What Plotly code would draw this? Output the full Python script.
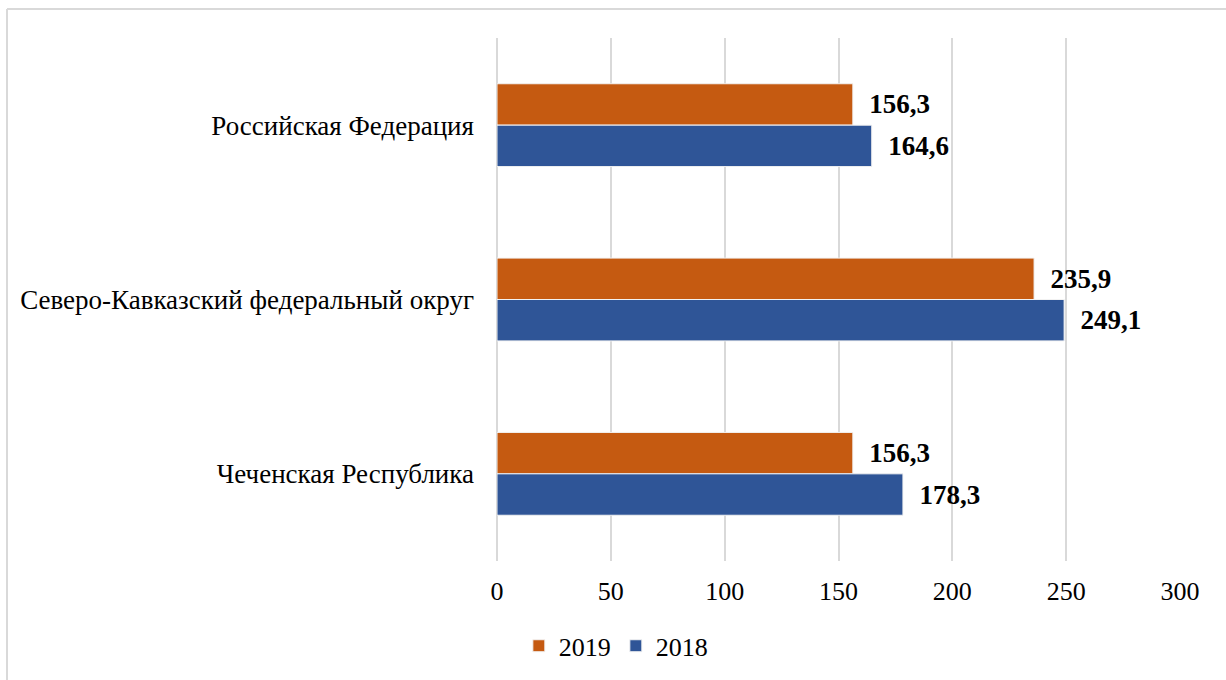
import plotly.graph_objects as go

regions = ["Российская Федерация", "Северо-Кавказский федеральный округ", "Чеченская Республика"]
values_2019 = [156.3, 235.9, 156.3]
values_2018 = [164.6, 249.1, 178.3]
x_ticks = [0, 50, 100, 150, 200, 250, 300]

FONT = "Liberation Serif"

fig = go.Figure()
fig.add_trace(go.Bar(
    name="2019", y=regions, x=values_2019, orientation="h",
    marker=dict(color="#C55A11", line=dict(color="#f2f2f2", width=1)),
    text=values_2019, texttemplate="  %{x:.1f}", textposition="outside",
    textfont=dict(family=FONT, size=27, color="black", weight="bold"),
    cliponaxis=False,
))
fig.add_trace(go.Bar(
    name="2018", y=regions, x=values_2018, orientation="h",
    marker=dict(color="#2F5597", line=dict(color="#f2f2f2", width=1)),
    text=values_2018, texttemplate="  %{x:.1f}", textposition="outside",
    textfont=dict(family=FONT, size=27, color="black", weight="bold"),
    cliponaxis=False,
))

fig.update_layout(
    width=1226, height=680,
    margin=dict(l=497, r=46, t=38, b=118),
    barmode="group", bargap=0.525, bargroupgap=0,
    separators=", ",
    plot_bgcolor="white", paper_bgcolor="white",
    font=dict(family=FONT, size=26, color="black"),
    xaxis=dict(
        range=[0, 300], tickvals=x_ticks, showgrid=True, gridcolor="#d9d9d9",
        gridwidth=2, zeroline=True, zerolinecolor="#d9d9d9", zerolinewidth=2,
        showline=False, ticks="",
        tickfont=dict(family=FONT, size=26), ticklabelstandoff=12,
    ),
    yaxis=dict(
        autorange="reversed", showgrid=False, showline=False, ticks="",
        tickfont=dict(family=FONT, size=27), ticklabelstandoff=22,
    ),
    legend=dict(
        orientation="h", x=0.174, xanchor="center", y=-0.16, yanchor="middle",
        font=dict(family=FONT, size=26), tracegroupgap=0,
    ),
    shapes=[
        dict(type="line", xref="paper", yref="paper", x0=-0.7174, x1=1.2,
             y0=1.0553, y1=1.0553, line=dict(color="#d9d9d9", width=2)),
        dict(type="line", xref="paper", yref="paper", x0=-0.7174, x1=-0.7174,
             y0=1.0553, y1=-0.3, line=dict(color="#d9d9d9", width=2)),
    ],
)

fig.write_html("out.html")
